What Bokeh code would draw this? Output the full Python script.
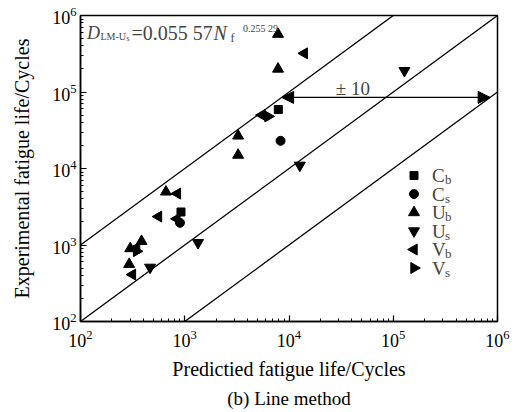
import math
from bokeh.plotting import figure
from bokeh.models import Label, Arrow, NormalHead, LogTicker, Title
from bokeh.embed import file_html
from bokeh.resources import INLINE

# ---- data ----
cb_pred = [920, 7900]
cb_exp = [2700, 59000]
cs_pred = [900, 8300]
cs_exp = [1950, 23000]
ub_pred = [660, 300, 385, 293, 7850, 7850, 3250, 3250]
ub_exp = [4950, 900, 1120, 560, 570000, 200000, 26700, 15000]
us_pred = [1340, 465, 12700, 128000]
us_exp = [1070, 510, 11000, 190000]
vb_pred = [850, 840, 560, 345, 315, 14000, 5500]
vb_exp = [4700, 2200, 2350, 920, 410, 320000, 50000]
vs_pred = [345, 6300]
vs_exp = [830, 48000]

series_names = [("C", "b"), ("C", "s"), ("U", "b"), ("U", "s"), ("V", "b"), ("V", "s")]

band_x = [1e2, 1e6]
band_factors = [10, 1, 0.1]
arrow_y = 8.5e4

FONT = "Liberation Serif"
X0, X1, Y0, Y1 = 1e2, 1e6, 1e2, 1e6
FW, FH = 417, 306  # frame size in px

p = figure(width=521, height=412, x_axis_type="log", y_axis_type="log",
           x_range=(X0, X1), y_range=(Y0, Y1),
           frame_width=FW, frame_height=FH,
           output_backend="svg", toolbar_location=None,
           min_border_left=80, min_border_right=24, min_border_top=15,
           min_border_bottom=91)
p.grid.visible = False
p.outline_line_color = "black"
p.outline_line_width = 1.5

for ax in (p.xaxis[0], p.yaxis[0]):
    ax.ticker = LogTicker(num_minor_ticks=10)
    ax.major_tick_in = 6
    ax.major_tick_out = 0
    ax.minor_tick_in = 3
    ax.minor_tick_out = 0
    ax.axis_line_width = 1.5
    ax.major_tick_line_width = 1.2
    ax.major_label_text_font = FONT
    ax.major_label_text_font_size = "18px"
    ax.major_label_text_color = "black"
    ax.axis_label_text_font = FONT
    ax.axis_label_text_font_size = "20px"
    ax.axis_label_text_font_style = "normal"
    ax.axis_label_text_color = "black"

p.xaxis.axis_label = "Predictied fatigue life/Cycles"
p.yaxis.axis_label = "Experimental fatigue life/Cycles"
p.xaxis.major_label_standoff = 8
p.yaxis.major_label_standoff = 4
p.xaxis.axis_label_standoff = 8
p.yaxis.axis_label_standoff = 16

# band lines
for f in band_factors:
    p.line(band_x, [v * f for v in band_x], line_color="black", line_width=1.3)

# scatter series
specs = [
    (cb_pred, cb_exp, "square", 0.0, 8),
    (cs_pred, cs_exp, "circle", 0.0, 9),
    (ub_pred, ub_exp, "triangle", 0.0, 11),
    (us_pred, us_exp, "inverted_triangle", 0.0, 11),
    (vb_pred, vb_exp, "triangle", math.pi / 2, 11),
    (vs_pred, vs_exp, "triangle", -math.pi / 2, 11),
]
for xs, ys, m, a, s in specs:
    p.scatter(xs, ys, marker=m, angle=a, size=s, color="black")

def ylog_to_screen(v):
    return (math.log10(v) - math.log10(Y0)) / (math.log10(Y1) - math.log10(Y0)) * FH

def screen_to_data(sx, sy):
    lx = math.log10(X0) + sx / FW * (math.log10(X1) - math.log10(X0))
    ly = math.log10(Y0) + sy / FH * (math.log10(Y1) - math.log10(Y0))
    return 10 ** lx, 10 ** ly

# legend (drawn by hand so that the side-pointing triangles keep their angle)
LEG_X, LEG_Y, LEG_DY = 333.5, 146, 18.5  # marker centre in frame px (from bottom-left)
for i, ((xs, ys, m, a, s), (main, sub)) in enumerate(zip(specs, series_names)):
    sy = LEG_Y - i * LEG_DY
    dx, dy = screen_to_data(LEG_X, sy)
    p.scatter([dx], [dy], marker=m, angle=a, size=s, color="black")
    p.add_layout(Label(x=LEG_X + 18, y=sy, x_units="screen", y_units="screen",
                       text=main, text_font=FONT, text_font_size="19px",
                       text_baseline="middle", text_align="left"))
    p.add_layout(Label(x=LEG_X + 31, y=sy - 4, x_units="screen", y_units="screen",
                       text=sub, text_font=FONT, text_font_size="13px",
                       text_baseline="middle", text_align="left"))

# +-10 arrow between the upper and lower band lines
p.add_layout(Arrow(start=NormalHead(size=12, fill_color="black", line_color="black"),
                   end=NormalHead(size=12, fill_color="black", line_color="black"),
                   x_start=arrow_y / band_factors[0], y_start=arrow_y,
                   x_end=arrow_y / band_factors[2], y_end=arrow_y,
                   line_color="black", line_width=1.3))
p.add_layout(Label(x=4.1e4, y=ylog_to_screen(arrow_y) + 9, y_units="screen",
                   text="± 10", text_font=FONT, text_font_size="19px",
                   text_align="center", text_baseline="middle"))

# equation
def lab(x, y, t, size, style="normal"):
    p.add_layout(Label(x=x, y=y, x_units="screen", y_units="screen", text=t,
                       text_font=FONT, text_font_size=size, text_font_style=style,
                       text_baseline="middle", text_align="left"))
lab(6.5, 288.5, "D", "18px", "italic")
lab(20, 285.5, "LM-U", "10px")
lab(46, 283, "s", "8px")
lab(51, 288.5, "=0.055 57", "20px")
lab(133, 288.5, "N", "20px", "italic")
lab(150, 284, "f", "12px")
lab(162.5, 293.5, "0.255 29", "10px")

# caption
p.add_layout(Title(text="(b) Line method", align="center", text_font=FONT,
                   text_font_size="19px", text_font_style="normal",
                   text_color="black", standoff=7), "below")

open("out.html", "w").write(file_html(p, INLINE))
